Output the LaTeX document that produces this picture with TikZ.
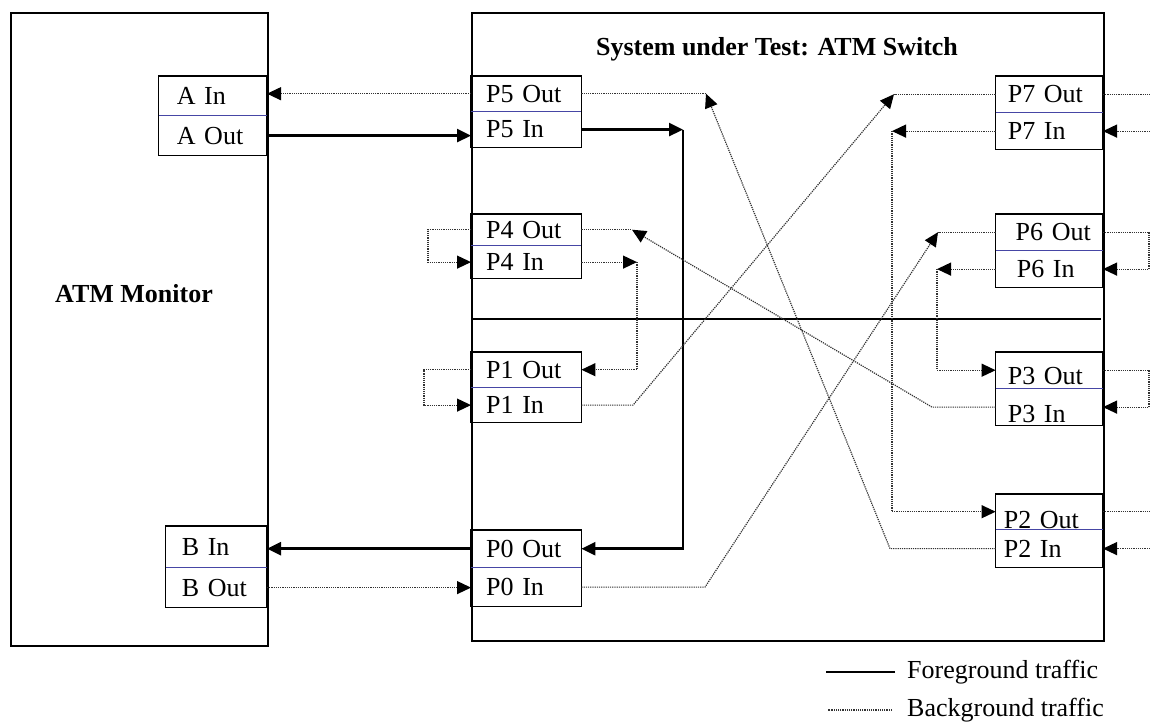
\documentclass[tikz,border=0pt]{standalone}
\usepackage{fontspec}
\setmainfont{Liberation Serif}
\usepackage{xcolor}
\usetikzlibrary{arrows.meta, positioning}
\definecolor{divblue}{RGB}{70,70,165}

\begin{document}
\begin{tikzpicture}[
    x=1pt, y=-1pt,
    font=\fontsize{26}{30}\selectfont,
    outerbox/.style={draw, line width=1.5pt, inner sep=0pt},
    lport/.style={minimum height=35pt, inner ysep=0pt, inner xsep=15pt, text width=80pt, align=left},
    rport/.style={minimum height=35pt, inner ysep=0pt, inner xsep=12pt, text width=83pt, align=left},
    aport/.style={minimum height=35pt, inner ysep=0pt, inner xsep=18pt, text width=72pt, align=left},
    bport/.style={minimum height=35pt, inner ysep=0pt, inner xsep=16pt, text width=69pt, align=left},
    portbox/.style={draw, line width=1.2pt},
    divline/.style={draw=divblue, line width=1pt},
    fgline/.style={line width=2.5pt},
    fgarrow/.style={fgline, -{Triangle[length=14pt, width=13pt, color=black]}},
    bgline/.style={line width=1.2pt, densely dotted, black!80},
    bgarrow/.style={bgline, -{Triangle[length=14pt, width=13pt, color=black]}},
    rule/.style={line width=2.5pt}
]
    \useasboundingbox (0,0) rectangle (1150,721);

    % the two boxes
    \node[outerbox, minimum width=257pt, minimum height=633pt, anchor=north west] (monitor) at (10,12) {};
    \node[outerbox, line width=2pt, minimum width=632pt, minimum height=628pt, anchor=north west] (sut) at (471,12) {};
    \node[font=\fontsize{26}{30}\selectfont\bfseries] (monlbl) at (134,294) {ATM Monitor};
    \node[font=\fontsize{26}{30}\selectfont\bfseries] (title) at (777,49) {System under Test: ATM Switch};
    \draw[rule] (473,319) -- (1101,319);

    % monitor ports
    \node[aport, minimum height=39pt, anchor=north east] (ain) at (267,76) {A In};
    \node[aport, minimum height=40pt, below=0pt of ain] (aout) {A Out};
    \node[bport, minimum height=41pt, anchor=north east] (bin) at (267,526) {B In};
    \node[bport, minimum height=40pt, below=0pt of bin] (bout) {B Out};

    % switch ports, left side
    \node[lport, anchor=north west] (p5out) at (471,76) {P5 Out};
    \node[lport, minimum height=36pt, below=0pt of p5out] (p5in) {P5 In};
    \node[lport, minimum height=31pt, anchor=north west] (p4out) at (471,214) {P4 Out};
    \node[lport, minimum height=33pt, below=0pt of p4out] (p4in) {P4 In};
    \node[lport, anchor=north west] (p1out) at (471,352) {P1 Out};
    \node[lport, below=0pt of p1out] (p1in) {P1 In};
    \node[lport, minimum height=37pt, anchor=north west] (p0out) at (471,530) {P0 Out};
    \node[lport, minimum height=39pt, below=0pt of p0out] (p0in) {P0 In};

    % switch ports, right side
    \node[rport, minimum height=36pt, anchor=north east] (p7out) at (1103,76) {P7 Out};
    \node[rport, minimum height=37pt, below=0pt of p7out] (p7in) {P7 In};
    \node[rport, minimum height=36pt, align=right, anchor=north east] (p6out) at (1103,214) {P6 Out};
    \node[rport, minimum height=37pt, inner xsep=21pt, text width=65pt, below=0pt of p6out] (p6in) {P6 In};
    \node[rport, minimum height=36pt, text height=28pt, text depth=0pt, anchor=north east] (p3out) at (1103,352) {P3 Out};
    \node[rport, minimum height=37pt, text height=31pt, text depth=0pt, below=0pt of p3out] (p3in) {P3 In};
    \node[rport, text height=33pt, text depth=0pt, inner xsep=8pt, text width=91pt, anchor=north east] (p2out) at (1103,494) {P2 Out};
    \node[rport, minimum height=38pt, inner xsep=8pt, text width=91pt, below=0pt of p2out] (p2in) {P2 In};

    % port frames
    \draw[portbox] (ain.north west) rectangle (aout.south east);
    \draw[divline] (ain.south west) -- (ain.south east);
    \draw[portbox] (bin.north west) rectangle (bout.south east);
    \draw[divline] (bin.south west) -- (bin.south east);
    \draw[portbox] (p5out.north west) rectangle (p5in.south east);
    \draw[divline] (p5out.south west) -- (p5out.south east);
    \draw[portbox] (p4out.north west) rectangle (p4in.south east);
    \draw[divline] (p4out.south west) -- (p4out.south east);
    \draw[portbox] (p1out.north west) rectangle (p1in.south east);
    \draw[divline] (p1out.south west) -- (p1out.south east);
    \draw[portbox] (p0out.north west) rectangle (p0in.south east);
    \draw[divline] (p0out.south west) -- (p0out.south east);
    \draw[portbox] (p7out.north west) rectangle (p7in.south east);
    \draw[divline] (p7out.south west) -- (p7out.south east);
    \draw[portbox] (p6out.north west) rectangle (p6in.south east);
    \draw[divline] (p6out.south west) -- (p6out.south east);
    \draw[portbox] (p3out.north west) rectangle (p3in.south east);
    \draw[divline] (p3out.south west) -- (p3out.south east);
    \draw[portbox] (p2out.north west) rectangle (p2in.south east);
    \draw[divline] (p2out.south west) -- (p2out.south east);

    % bend points
    \coordinate (fgbus) at (683,0);
    \coordinate (colA) at (637,0);
    \coordinate (colB) at (892,0);
    \coordinate (colC) at (937,0);
    \coordinate (rim) at (1150,0);
    \coordinate (d0) at (705,0);
    \coordinate (d6) at (938,0);
    \coordinate (e2) at (890,0);
    \coordinate (e5) at (706,0);
    \coordinate (f1) at (633,0);
    \coordinate (f7) at (894,0);
    \coordinate (m3) at (932,0);
    \coordinate (m4) at (632,0);

    % foreground traffic
    \draw[fgarrow] (aout.east) -- (aout.east -| p5in.west);
    \draw[fgarrow] (p5in.east) -- (p5in.east -| fgbus);
    \draw[fgarrow] (p5in.east -| fgbus) |- (p0out.east);
    \draw[fgarrow] (p0out.west) -- (p0out.west -| bin.east);

    % background traffic
    \draw[bgarrow] (p5out.west) -- (p5out.west -| ain.east);
    \draw[bgarrow] (bout.east) -- (bout.east -| p0in.west);
    \draw[bgarrow] (p4out.west) -- ++(-43,0) |- (p4in.west);
    \draw[bgarrow] (p1out.west) -- ++(-47,0) |- (p1in.west);
    \draw[bgarrow] (p6out.east) -- ++(46,0) |- (p6in.east);
    \draw[bgarrow] (p3out.east) -- ++(46,0) |- (p3in.east);
    \draw[bgarrow] (p4in.east) -- (p4in.east -| colA);
    \draw[bgarrow] (p4in.east -| colA) |- (p1out.east);
    \draw[bgarrow] (p7in.west) -- (p7in.west -| colB);
    \draw[bgarrow] (p7in.west -| colB) |- (p2out.west);
    \draw[bgarrow] (p6in.west) -- (p6in.west -| colC);
    \draw[bgarrow] (p6in.west -| colC) |- (p3out.west);
    \draw[bgarrow] (p0in.east) -- (p0in.east -| d0) -- (p6out.west -| d6);
    \draw[bgline] (p6out.west) -- (p6out.west -| d6);
    \draw[bgarrow] (p2in.west) -- (p2in.west -| e2) -- (p5out.east -| e5);
    \draw[bgline] (p5out.east) -- (p5out.east -| e5);
    \draw[bgarrow] (p1in.east) -- (p1in.east -| f1) -- (p7out.west -| f7);
    \draw[bgline] (p7out.west) -- (p7out.west -| f7);
    \draw[bgarrow] (p3in.west) -- (p3in.west -| m3) -- (p4out.east -| m4);
    \draw[bgline] (p4out.east) -- (p4out.east -| m4);
    \draw[bgline] (p7out.east) -- (p7out.east -| rim);
    \draw[bgarrow] (p7in.east -| rim) -- (p7in.east);
    \draw[bgline] (p2out.east) -- (p2out.east -| rim);
    \draw[bgarrow] (p2in.east -| rim) -- (p2in.east);

    % legend
    \node[anchor=west, inner sep=0pt] (fglbl) at (907,672) {Foreground traffic};
    \node[anchor=west, inner sep=0pt] (bglbl) at (907,710) {Background traffic};
    \draw[fgline] ([xshift=-12pt]fglbl.west) -- ++(-69,0);
    \draw[bgline] ([xshift=-15pt]bglbl.west) -- ++(-64,0);
\end{tikzpicture}
\end{document}
